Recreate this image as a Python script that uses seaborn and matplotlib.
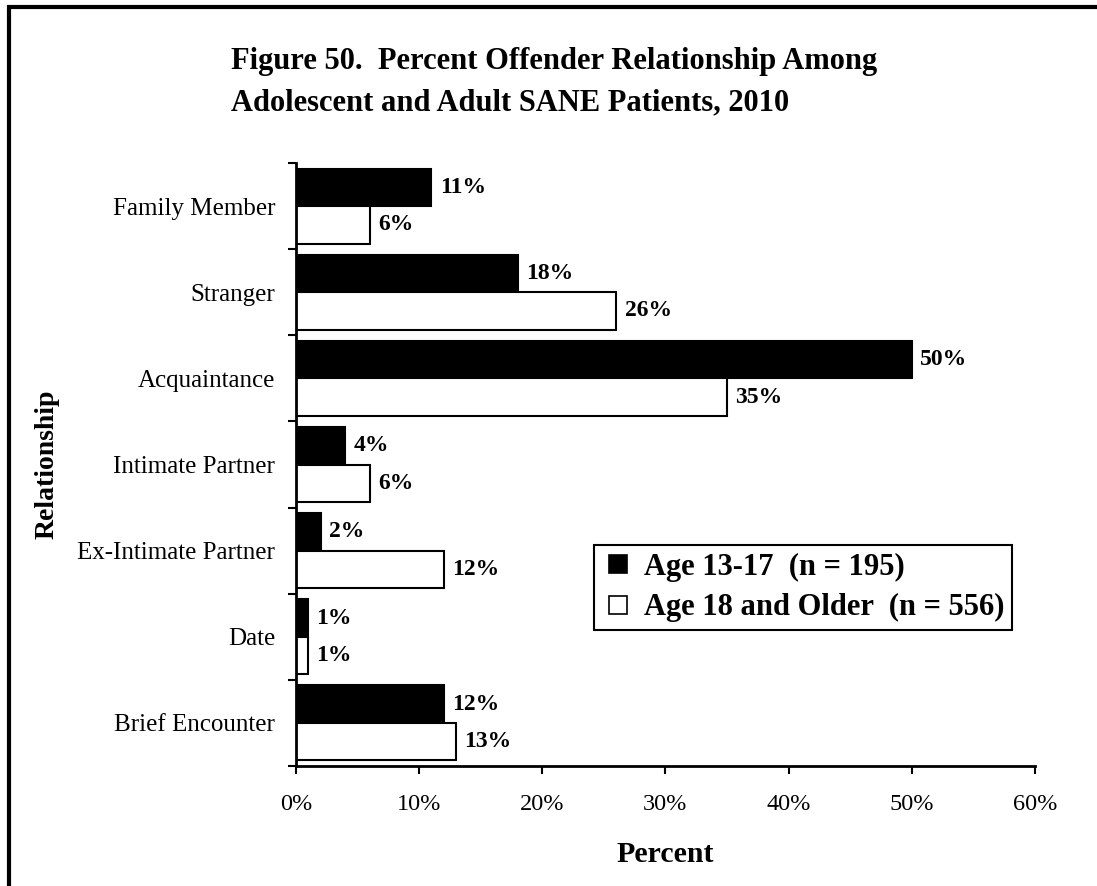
import matplotlib
matplotlib.use("Agg")
import matplotlib.pyplot as plt
import seaborn as sns
import pandas as pd
from matplotlib.lines import Line2D
from matplotlib.patches import Rectangle
from matplotlib.ticker import FixedLocator, PercentFormatter

# data
relationships = ["Family Member", "Stranger", "Acquaintance", "Intimate Partner",
                 "Ex-Intimate Partner", "Date", "Brief Encounter"]
age_13_17 = [11, 18, 50, 4, 2, 1, 12]
age_18_plus = [6, 26, 35, 6, 12, 1, 13]
groups = ["Age 13-17  (n = 195)", "Age 18 and Older  (n = 556)"]
group_colors = ["black", "white"]
x_ticks = [0, 10, 20, 30, 40, 50, 60]

df = pd.DataFrame({
    "Relationship": relationships * 2,
    "Percent": age_13_17 + age_18_plus,
    "Group": [groups[0]] * len(relationships) + [groups[1]] * len(relationships),
})

sns.set_theme(style="ticks")
plt.rcParams["font.family"] = ["Liberation Serif", "DejaVu Serif"]
plt.rcParams["text.color"] = "black"
plt.rcParams["axes.labelcolor"] = "black"
plt.rcParams["xtick.color"] = "black"
plt.rcParams["ytick.color"] = "black"

fig = plt.figure(figsize=(10.97, 8.86), dpi=100)
ax = fig.add_axes([0.2698, 0.1354, 0.6737, 0.6806])

sns.barplot(data=df, x="Percent", y="Relationship", hue="Group",
            order=relationships, hue_order=groups, palette=group_colors,
            saturation=1, edgecolor="black", linewidth=1.5, width=0.87,
            orient="h", errorbar=None, legend=False, ax=ax)

for container in ax.containers:
    ax.bar_label(container, fmt="%d%%", padding=6, fontsize=17,
                 fontweight="bold", color="black")

# axes and ticks
ax.set_xlim(0, 60)
ax.set_ylim(len(relationships) - 0.5, -0.5)
ax.xaxis.set_major_locator(FixedLocator(x_ticks))
ax.xaxis.set_major_formatter(PercentFormatter(decimals=0))

# major y ticks sit between the categories, labels on minor ticks
ax.set_yticks([i - 0.5 for i in range(len(relationships) + 1)])
ax.set_yticklabels([])
ax.set_yticks(range(len(relationships)), minor=True)
ax.set_yticklabels(relationships, minor=True)

ax.tick_params(axis="y", which="major", direction="out", length=6, width=1.5,
               color="black")
ax.tick_params(axis="y", which="minor", length=0, pad=15, labelsize=18,
               labelcolor="black")
ax.tick_params(axis="x", direction="out", length=6, width=1.5, pad=14,
               labelsize=17.5, color="black", labelcolor="black")

sns.despine(ax=ax)
for side in ["left", "bottom"]:
    ax.spines[side].set_color("black")
    ax.spines[side].set_linewidth(2)

ax.set_xlabel("Percent", fontsize=21.5, fontweight="bold", color="black")
ax.xaxis.set_label_coords(0.5, -0.125)
ax.set_ylabel("Relationship", fontsize=20, fontweight="bold", color="black")
ax.yaxis.set_label_coords(-0.32, 0.5)

# legend
handles = [Line2D([], [], marker="s", linestyle="none", markersize=12.5,
                  markerfacecolor=c, markeredgecolor="black", markeredgewidth=1.2)
           for c in group_colors]
leg = ax.legend(handles, groups, loc="lower left", bbox_to_anchor=(0.403, 0.2255),
                borderaxespad=0, prop={"weight": "bold", "size": 22},
                frameon=True, fancybox=False, edgecolor="black", framealpha=1,
                borderpad=0.25, labelspacing=0.37, handlelength=1.1,
                handletextpad=0.3, labelcolor="black")
leg.get_frame().set_linewidth(1.5)

fig.suptitle("Figure 50.  Percent Offender Relationship Among\n"
             "Adolescent and Adult SANE Patients, 2010",
             x=0.2106, y=0.947, ha="left", va="top", fontsize=22,
             fontweight="bold", linespacing=1.55, color="black")

# page frame, cut off on the right and bottom as in the original
fig.add_artist(Rectangle((9 / 1097, -0.5), 2, 1.5 - 7 / 886,
                         transform=fig.transFigure, fill=False,
                         linewidth=3, edgecolor="black"))

fig.savefig("out.png", dpi=100)
plt.close(fig)
